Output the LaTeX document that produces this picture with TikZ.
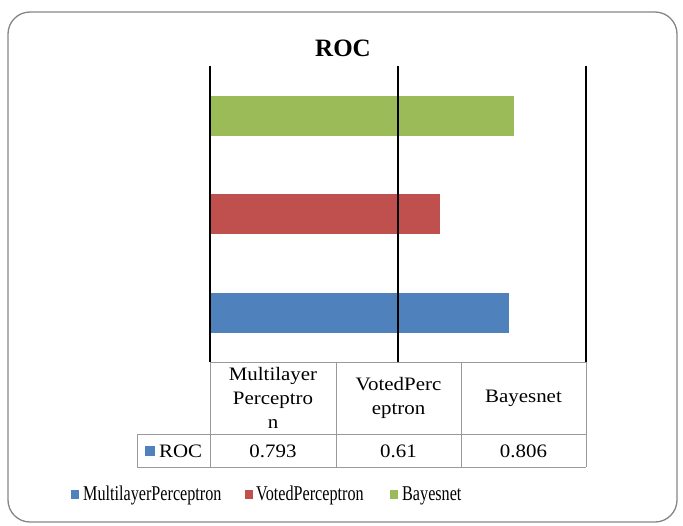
\documentclass[tikz,border=0pt]{standalone}
\usepackage{fontspec}
\setmainfont{Liberation Serif}
\newfontfamily\tablefont[FakeStretch=1.1]{Liberation Serif}
\newfontfamily\legendfont[FakeStretch=0.77]{Liberation Serif}
\definecolor{mlpblue}{HTML}{4F81BD}
\definecolor{vpred}{HTML}{C0504D}
\definecolor{bngreen}{HTML}{9BBB59}
\definecolor{framegray}{HTML}{868686}
\definecolor{rulegray}{HTML}{9A9A9A}
\begin{document}
\begin{tikzpicture}[x=1pt,y=-1pt,
  chartframe/.style={draw=framegray, line width=1.3pt, rounded corners=22pt},
  gridline/.style={draw=black, line width=1.6pt},
  tablerule/.style={draw=rulegray, line width=1pt},
  cell/.style={inner sep=0pt, align=center, font=\tablefont\fontsize{19}{24}\selectfont},
  valuecell/.style={inner sep=0pt, anchor=base, font=\tablefont\fontsize{19}{24}\selectfont},
  legendtext/.style={inner sep=0pt, anchor=base west, font=\legendfont\fontsize{21}{24}\selectfont},
  titletext/.style={inner sep=0pt, anchor=base, font=\bfseries\fontsize{25}{30}\selectfont}]
\useasboundingbox (0,0) rectangle (683,525);

% outer frame
\path[chartframe] (8,12) rectangle (677,522);

% title
\node[titletext] (title) at (343,56) {ROC};

% bars (value axis 0..1 mapped to x = 210..587)
\fill[bngreen] (210,96) rectangle ({210+0.806*377},136);
\fill[vpred]   (210,194) rectangle ({210+0.61*377},234);
\fill[mlpblue] (210,293) rectangle ({210+0.793*377},333);

% vertical gridlines at 0, 0.5, 1
\draw[gridline] (210,66) -- (210,362);
\draw[gridline] (398,66) -- (398,362);
\draw[gridline] (586,66) -- (586,362);

% data table rules
\draw[tablerule] (210,362) -- (586,362);
\draw[tablerule] (137,434) -- (586,434);
\draw[tablerule] (137,467) -- (586,467);
\draw[tablerule] (137,434) -- (137,467);
\draw[tablerule] (210,362) -- (210,467);
\draw[tablerule] (336,362) -- (336,467);
\draw[tablerule] (461,362) -- (461,467);
\draw[tablerule] (586,362) -- (586,467);

% header cells
\node[cell] (hmlp) at (273,398) {Multilayer\\Perceptro\\n};
\node[cell] (hvp)  at (398.5,398) {VotedPerc\\eptron};
\node[cell] (hbn)  at (523.5,398) {Bayesnet};

% data row
\fill[mlpblue] (145,446) rectangle (155,456);
\node[valuecell, anchor=base west] (rowlabel) at (159,457) {ROC};
\node[valuecell] (vmlp) at (273,457) {0.793};
\node[valuecell] (vvp)  at (398.5,457) {0.61};
\node[valuecell] (vbn)  at (523.5,457) {0.806};

% legend
\fill[mlpblue] (71,490) rectangle (79,499);
\node[legendtext] (lmlp) at (83,500) {MultilayerPerceptron};
\fill[vpred] (245,490) rectangle (253,499);
\node[legendtext] (lvp) at (256,500) {VotedPerceptron};
\fill[bngreen] (390,490) rectangle (398,499);
\node[legendtext] (lbn) at (402,500) {Bayesnet};
\end{tikzpicture}
\end{document}
